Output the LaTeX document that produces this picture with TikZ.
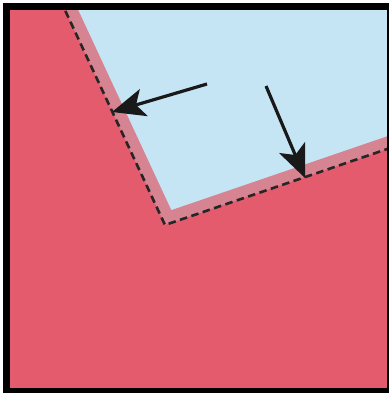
\documentclass[tikz,border=0pt]{standalone}
\usetikzlibrary{arrows.meta}
\definecolor{redfill}{RGB}{227,91,108}
\definecolor{bandpink}{RGB}{214,132,146}
\definecolor{skyblue}{RGB}{197,229,245}
\tikzset{
  boundary/.style={black!85, line width=2.6pt, dash pattern=on 7.5pt off 4.5pt},
  band/.style={bandpink, line width=24pt, line join=miter},
  pointer/.style={black!90, line width=3.2pt, -{Stealth[length=33pt, width=28pt, inset=8pt]}},
  framebar/.style={fill=black}
}
\begin{document}
\begin{tikzpicture}[x=1pt, y=-1pt]
\useasboundingbox (0,0) rectangle (389,393);
\fill[white] (0,0) rectangle (389,393);
\coordinate (top) at (60.3,0);
\coordinate (corner) at (165,225);
\coordinate (right) at (400,144.6);
\begin{scope}
  \clip (10,10) rectangle (388,388);
  \fill[skyblue] (10,10) rectangle (388,388);
  \draw[band] (top) -- (corner) -- (right);
  \fill[redfill] (0,0) -- (top) -- (corner) -- (right) -- (400,400) -- (0,400) -- cycle;
  \draw[boundary] (top) -- (corner) -- (right);
\end{scope}
% frame
\fill[framebar] (3,3) rectangle (10,393);
\fill[framebar] (3,3) rectangle (388,10);
\fill[framebar] (3,388) rectangle (389,393);
\fill[framebar] (387,3) rectangle (389,393);
% arrows
\coordinate (a1s) at (207,84);
\coordinate (a1e) at (112,112);
\coordinate (a2s) at (266,86);
\coordinate (a2e) at (305,178);
\draw[pointer] (a1s) -- (a1e);
\draw[pointer] (a2s) -- (a2e);
\end{tikzpicture}
\end{document}
